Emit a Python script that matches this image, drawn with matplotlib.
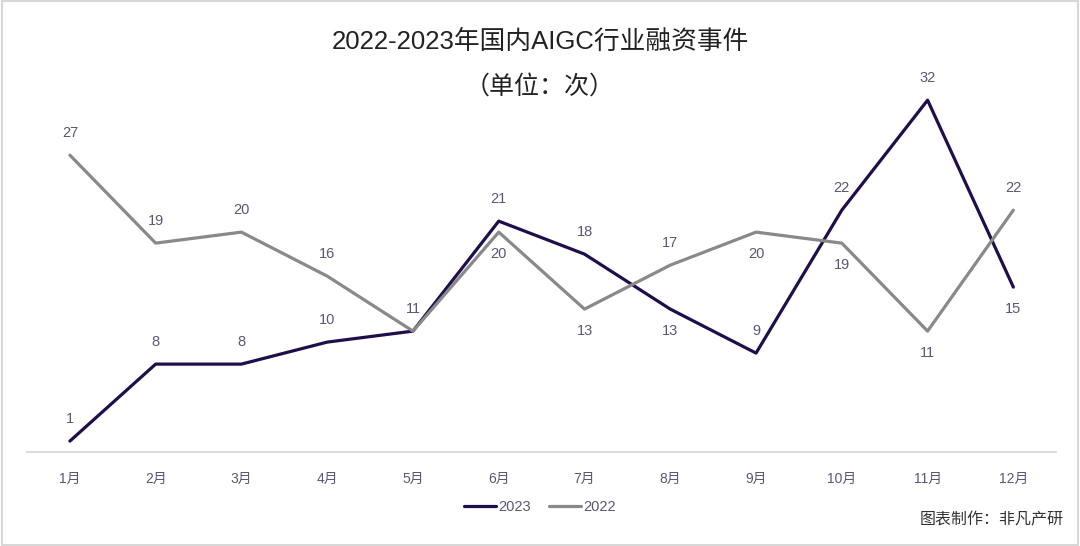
import matplotlib.pyplot as plt
from matplotlib.patches import Rectangle

plt.rcParams['font.family'] = ['Liberation Sans', 'Noto Sans CJK SC', 'DejaVu Sans']

# -----------------------------
# data
# -----------------------------
months = ["1月", "2月", "3月", "4月", "5月", "6月", "7月", "8月", "9月", "10月", "11月", "12月"]
v2023 = [1, 8, 8, 10, 11, 21, 18, 13, 9, 22, 32, 15]
v2022 = [27, 19, 20, 16, 11, 20, 13, 17, 20, 19, 11, 22]

# label above (+1) or below (-1) the point
pos2023 = [1, 1, 1, 1, 1, 1, 1, -1, 1, 1, 1, -1]
pos2022 = [1, 1, 1, 1, 0, -1, -1, 1, -1, -1, -1, 1]  # 0 = skip (shared with 2023)

c2023 = "#1f0e4b"
c2022 = "#898989"
txt_c = "#5b5577"

fig = plt.figure(figsize=(10.8, 5.46), dpi=100)
ax = fig.add_axes([0.025, 0.172, 0.953, 0.705])

x = list(range(len(months)))
ax.plot(x, v2023, color=c2023, lw=2.3, label="2023", solid_capstyle="round")
ax.plot(x, v2022, color=c2022, lw=2.3, label="2022", solid_capstyle="round")

for i, (v, p) in enumerate(zip(v2023, pos2023)):
    ax.annotate(str(v), (i, v), xytext=(0, 16 * p), textcoords="offset points",
                ha="center", va="center", fontsize=10.5, color=txt_c)
for i, (v, p) in enumerate(zip(v2022, pos2022)):
    if p == 0:
        continue
    ax.annotate(str(v), (i, v), xytext=(0, 16 * p), textcoords="offset points",
                ha="center", va="center", fontsize=10.5, color=txt_c)

ax.set_xlim(-0.5, 11.5)
ax.set_ylim(0, 35)
ax.set_xticks(x)
ax.set_xticklabels(months, fontsize=10, color=txt_c)
ax.set_yticks([])
ax.tick_params(axis="x", length=0, pad=14)
for s in ["top", "right", "left"]:
    ax.spines[s].set_visible(False)
ax.spines["bottom"].set_color("#d4d4d4")
ax.spines["bottom"].set_linewidth(1.2)

fig.text(0.5, 0.924, "2022-2023年国内AIGC行业融资事件", ha="center", va="center",
         fontsize=18.5, color="#222222")
fig.text(0.5, 0.842, "（单位：次）", ha="center", va="center",
         fontsize=18, color="#222222")

leg = fig.legend(loc="center", bbox_to_anchor=(0.5, 0.072), ncol=2, frameon=False,
                 fontsize=10.5, handlelength=2.2, handletextpad=0.2, columnspacing=1.2)
for t in leg.get_texts():
    t.set_color(txt_c)

fig.text(0.985, 0.048, "图表制作：非凡产研", ha="right", va="center",
         fontsize=11.5, color="#333333")

fig.patches.append(Rectangle((0.0015, 0.002), 0.997, 0.996, transform=fig.transFigure,
                             fill=False, edgecolor="#d8d8d8", lw=1.5))

fig.savefig("out.png", dpi=100)
